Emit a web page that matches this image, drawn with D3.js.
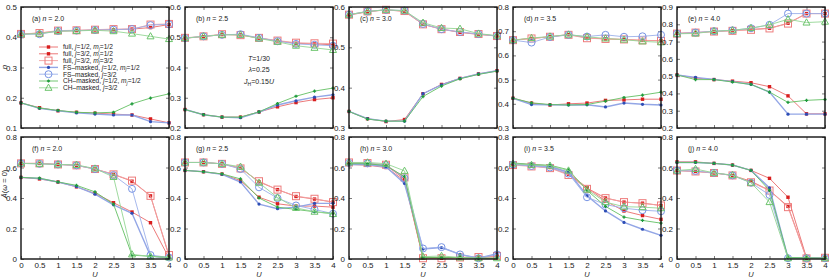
<!DOCTYPE html>
<html>
<head>
<meta charset="utf-8">
<script src="https://d3js.org/d3.v7.min.js"></script>
<style>
body { margin: 0; background: #fff; }
svg text { font-family: "Liberation Sans", Arial, sans-serif; fill: #222; }
.tick text { font-size: 8px; }
.lbl { font-size: 7px; }
</style>
</head>
<body>
<script>
// U grid and panel fillings
var U = [0, 0.5, 1, 1.5, 2, 2.5, 3, 3.5, 4];
var fillings = ["2.0", "2.5", "3.0", "3.5", "4.0"];
var topLetters = ["a", "b", "c", "d", "e"];
var botLetters = ["f", "g", "h", "i", "j"];
var topDomains = [[0.1, 0.5], [0.2, 0.6], [0.3, 0.6], [0.3, 0.8], [0.2, 0.9]];
var botDomain = [0, 0.8];
var xTicks = [0, 0.5, 1, 1.5, 2, 2.5, 3, 3.5, 4];

// occupation n, one row per filling
var occFull12 = [
  [0.183,0.167,0.157,0.152,0.149,0.146,0.143,0.130,0.117],
  [0.261,0.244,0.236,0.236,0.253,0.270,0.284,0.294,0.300],
  [0.341,0.323,0.316,0.321,0.385,0.408,0.423,0.434,0.442],
  [0.423,0.403,0.395,0.400,0.403,0.414,0.416,0.419,0.419],
  [0.507,0.489,0.480,0.471,0.462,0.439,0.386,0.282,0.282]];
var occFull32m12 = [
  [0.410,0.414,0.420,0.422,0.424,0.425,0.427,0.432,0.442],
  [0.497,0.502,0.509,0.508,0.497,0.488,0.480,0.478,0.475],
  [0.580,0.588,0.593,0.589,0.557,0.545,0.537,0.532,0.528],
  [0.663,0.670,0.677,0.686,0.673,0.668,0.666,0.662,0.661],
  [0.748,0.752,0.758,0.764,0.770,0.777,0.806,0.862,0.862]];
var occFull32m32 = [
  [0.411,0.414,0.422,0.423,0.425,0.427,0.427,0.442,0.444],
  [0.498,0.503,0.510,0.507,0.498,0.489,0.482,0.480,0.479],
  [0.581,0.589,0.593,0.590,0.557,0.545,0.538,0.533,0.528],
  [0.663,0.670,0.677,0.685,0.671,0.668,0.666,0.662,0.660],
  [0.746,0.752,0.758,0.762,0.768,0.776,0.804,0.862,0.862]];
var occFS12 = [
  [0.183,0.165,0.157,0.150,0.146,0.143,0.143,0.121,0.117],
  [0.261,0.244,0.236,0.234,0.253,0.276,0.290,0.302,0.310],
  [0.341,0.323,0.317,0.317,0.385,0.407,0.423,0.434,0.442],
  [0.423,0.397,0.396,0.395,0.396,0.387,0.403,0.398,0.395],
  [0.507,0.493,0.481,0.468,0.452,0.408,0.280,0.280,0.280]];
var occFS32 = [
  [0.410,0.410,0.421,0.422,0.424,0.425,0.427,0.440,0.443],
  [0.497,0.503,0.508,0.510,0.498,0.487,0.478,0.475,0.472],
  [0.581,0.589,0.593,0.591,0.558,0.545,0.538,0.533,0.528],
  [0.663,0.653,0.676,0.685,0.678,0.685,0.677,0.679,0.685],
  [0.746,0.752,0.760,0.765,0.777,0.797,0.862,0.862,0.862]];
var occCH12 = [
  [0.183,0.166,0.158,0.152,0.150,0.152,0.180,0.199,0.213],
  [0.261,0.244,0.236,0.236,0.253,0.281,0.305,0.322,0.332],
  [0.341,0.322,0.317,0.317,0.378,0.404,0.422,0.433,0.441],
  [0.423,0.404,0.397,0.395,0.397,0.411,0.426,0.436,0.448],
  [0.507,0.480,0.480,0.466,0.452,0.408,0.348,0.360,0.365]];
var occCH32 = [
  [0.410,0.412,0.420,0.421,0.423,0.420,0.412,0.403,0.394],
  [0.497,0.503,0.508,0.508,0.496,0.485,0.472,0.465,0.458],
  [0.581,0.589,0.593,0.591,0.561,0.548,0.546,0.534,0.529],
  [0.663,0.672,0.678,0.686,0.677,0.670,0.665,0.658,0.654],
  [0.745,0.747,0.760,0.765,0.778,0.797,0.829,0.810,0.815]];

// spectral weight A(w=0)
var specFull12 = [
  [0.535,0.525,0.505,0.473,0.430,0.369,0.308,0.238,0.006],
  [0.581,0.572,0.557,0.514,0.405,0.362,0.347,0.347,0.340],
  [0.620,0.615,0.600,0.514,0.005,0.005,0.008,0.010,0.015],
  [0.625,0.620,0.610,0.565,0.467,0.380,0.315,0.285,0.260],
  [0.637,0.637,0.627,0.616,0.581,0.529,0.405,0.008,0.008]];
var specFull32m12 = [
  [0.627,0.627,0.620,0.614,0.590,0.555,0.510,0.414,0.020],
  [0.633,0.633,0.624,0.596,0.506,0.455,0.410,0.393,0.373],
  [0.625,0.622,0.613,0.525,0.010,0.010,0.010,0.013,0.020],
  [0.620,0.610,0.600,0.555,0.465,0.400,0.373,0.366,0.351],
  [0.580,0.574,0.564,0.548,0.510,0.450,0.345,0.005,0.008]];
var specFull32m32 = [
  [0.627,0.627,0.620,0.614,0.590,0.555,0.514,0.414,0.026],
  [0.633,0.633,0.624,0.594,0.510,0.455,0.412,0.395,0.373],
  [0.633,0.629,0.618,0.535,0.005,0.005,0.010,0.013,0.020],
  [0.616,0.607,0.596,0.551,0.460,0.399,0.373,0.366,0.351],
  [0.580,0.574,0.564,0.548,0.503,0.449,0.340,0.004,0.008]];
var specFS12 = [
  [0.535,0.528,0.505,0.475,0.425,0.355,0.300,0.020,0.005],
  [0.581,0.572,0.555,0.505,0.360,0.330,0.340,0.365,0.365],
  [0.620,0.620,0.605,0.495,0.065,0.075,0.030,0.005,0.035],
  [0.625,0.615,0.605,0.570,0.415,0.315,0.240,0.195,0.155],
  [0.633,0.633,0.627,0.616,0.581,0.466,0.008,0.008,0.005]];
var specFS32 = [
  [0.627,0.624,0.620,0.614,0.590,0.550,0.460,0.026,0.010],
  [0.633,0.633,0.624,0.590,0.470,0.399,0.351,0.325,0.297],
  [0.630,0.627,0.615,0.530,0.069,0.078,0.030,0.005,0.030],
  [0.620,0.610,0.600,0.560,0.405,0.357,0.333,0.320,0.313],
  [0.580,0.577,0.565,0.548,0.500,0.420,0.005,0.005,0.005]];
var specCH12 = [
  [0.535,0.530,0.505,0.483,0.440,0.360,0.025,0.018,0.010],
  [0.581,0.572,0.558,0.525,0.400,0.340,0.325,0.310,0.298],
  [0.625,0.625,0.612,0.540,0.010,0.010,0.010,0.005,0.005],
  [0.630,0.620,0.615,0.585,0.450,0.345,0.275,0.253,0.235],
  [0.633,0.633,0.627,0.616,0.581,0.450,0.010,0.008,0.005]];
var specCH32 = [
  [0.627,0.624,0.620,0.617,0.593,0.538,0.030,0.017,0.010],
  [0.633,0.633,0.624,0.605,0.500,0.403,0.335,0.310,0.295],
  [0.633,0.633,0.625,0.578,0.015,0.020,0.010,0.005,0.005],
  [0.625,0.617,0.612,0.580,0.455,0.373,0.343,0.340,0.333],
  [0.580,0.590,0.565,0.550,0.500,0.373,0.005,0.005,0.005]];

var occSeries = [occFull12, occFull32m12, occFull32m32, occFS12, occFS32, occCH12, occCH32];
var specSeries = [specFull12, specFull32m12, specFull32m32, specFS12, specFS32, specCH12, specCH32];

// legend text pieces: [text, style] style: "" normal, "i" italic, "s" subscript
var legendLabels = [
  [["full, ",""],["j","i"],["=1/2, ",""],["m","i"],["j","s"],["=1/2",""]],
  [["full, ",""],["j","i"],["=3/2, ",""],["m","i"],["j","s"],["=1/2",""]],
  [["full, ",""],["j","i"],["=3/2, ",""],["m","i"],["j","s"],["=3/2",""]],
  [["FS\u2013masked, ",""],["j","i"],["=1/2, ",""],["m","i"],["j","s"],["=1/2",""]],
  [["FS\u2013masked, ",""],["j","i"],["=3/2",""]],
  [["CH\u2013masked, ",""],["j","i"],["=1/2, ",""],["m","i"],["j","s"],["=1/2",""]],
  [["CH\u2013masked, ",""],["j","i"],["=3/2",""]]
];

// drawing styles per series
var styles = [
  {line: "#ea6a6a", lw: 0.9, mark: "fsq", mc: "#d81e1e"},
  {line: "#ea6a6a", lw: 0.9, mark: "fsq", mc: "#d81e1e"},
  {line: "#f2a0a0", lw: 0.9, mark: "osq", mc: "#ee7c7c"},
  {line: "#93a6e6", lw: 1.4, mark: "fdot", mc: "#2d4db5"},
  {line: "#9cb0ea", lw: 0.9, mark: "ocirc", mc: "#7894e4"},
  {line: "#62c062", lw: 0.9, mark: "fplus", mc: "#1e9a3c"},
  {line: "#94d694", lw: 0.9, mark: "otri", mc: "#6cc46c"}
];

var W = 830, H = 277;
var panelW = 148, panelStep = 164, left0 = 21;
var rows = [{top: 7, bot: 128}, {top: 137, bot: 259}];

var svg = d3.select("body").append("svg")
  .attr("width", W).attr("height", H);

var yFmt = function(d) { return d === 0 ? "0" : d3.format(".1f")(d); };

function drawMarker(g, type, x, y, c) {
  if (type === "fsq") {
    g.append("rect").attr("x", x - 1.7).attr("y", y - 1.7).attr("width", 3.4).attr("height", 3.4).attr("fill", c);
  } else if (type === "osq") {
    g.append("rect").attr("x", x - 3.5).attr("y", y - 3.5).attr("width", 7).attr("height", 7)
      .attr("fill", "none").attr("stroke", c).attr("stroke-width", 1);
  } else if (type === "fdot") {
    g.append("circle").attr("cx", x).attr("cy", y).attr("r", 1.6).attr("fill", c);
  } else if (type === "ocirc") {
    g.append("circle").attr("cx", x).attr("cy", y).attr("r", 3.5)
      .attr("fill", "none").attr("stroke", c).attr("stroke-width", 1);
  } else if (type === "fplus") {
    g.append("path").attr("d", "M" + (x - 1.6) + "," + y + "h3.2M" + x + "," + (y - 1.6) + "v3.2")
      .attr("stroke", c).attr("stroke-width", 1.3);
  } else if (type === "otri") {
    g.append("path").attr("d", "M" + x + "," + (y - 3.7) + "L" + (x + 3.5) + "," + (y + 2.5) + "L" + (x - 3.5) + "," + (y + 2.5) + "Z")
      .attr("fill", "none").attr("stroke", c).attr("stroke-width", 1);
  }
}

function drawPanel(row, col, domain, yTicks, data, label) {
  var x0 = left0 + col * panelStep;
  var r = rows[row];
  var x = d3.scaleLinear().domain([0, 4]).range([x0, x0 + panelW]);
  var y = d3.scaleLinear().domain(domain).range([r.bot, r.top]);
  var g = svg.append("g");

  // axes (inward ticks on all sides)
  var yl = g.append("g").attr("transform", "translate(" + x0 + ",0)")
    .call(d3.axisLeft(y).tickValues(yTicks).tickSize(-3).tickPadding(4).tickFormat(yFmt));
  var yr = g.append("g").attr("transform", "translate(" + (x0 + panelW) + ",0)")
    .call(d3.axisRight(y).tickValues(yTicks).tickSize(-3).tickFormat(""));
  var xb = g.append("g").attr("transform", "translate(0," + r.bot + ")")
    .call(d3.axisBottom(x).tickValues(xTicks).tickSize(-3).tickPadding(3)
      .tickFormat(row === 1 ? d3.format("") : ""));
  var xt = g.append("g").attr("transform", "translate(0," + r.top + ")")
    .call(d3.axisTop(x).tickValues(xTicks).tickSize(-3).tickFormat(""));
  [yl, yr, xb, xt].forEach(function(a) {
    a.select(".domain").remove();
    a.selectAll(".tick line").attr("stroke", "#444").attr("stroke-width", 0.7);
    a.selectAll(".tick text").attr("fill", "#333");
  });

  // series
  var line = d3.line().x(function(d, i) { return x(U[i]); }).y(function(d) { return y(d); });
  data.forEach(function(s, k) {
    var st = styles[k];
    var vals = s[col];
    g.append("path").datum(vals).attr("d", line)
      .attr("fill", "none").attr("stroke", st.line).attr("stroke-width", st.lw);
    vals.forEach(function(v, i) { drawMarker(g, st.mark, x(U[i]), y(v), st.mc); });
  });

  // frame
  g.append("rect").attr("x", x0).attr("y", r.top).attr("width", panelW).attr("height", r.bot - r.top)
    .attr("fill", "none").attr("stroke", "#111").attr("stroke-width", 1.4);

  // panel label
  var t = g.append("text").attr("class", "lbl").attr("x", x0 + 11).attr("y", r.top + 14);
  t.append("tspan").text("(" + label + ") ");
  t.append("tspan").attr("font-style", "italic").text("n");
  t.append("tspan").text(" = " + fillings[col]);

  if (row === 1) {
    g.append("text").attr("x", x0 + panelW / 2).attr("y", 276.5).attr("text-anchor", "middle")
      .attr("font-size", 7.5).attr("font-style", "italic").text("U");
  }
  return g;
}

var topTicks = [
  [0.1, 0.2, 0.3, 0.4, 0.5],
  [0.2, 0.3, 0.4, 0.5, 0.6],
  [0.3, 0.4, 0.5, 0.6],
  [0.3, 0.4, 0.5, 0.6, 0.7, 0.8],
  [0.2, 0.3, 0.4, 0.5, 0.6, 0.7, 0.8, 0.9]
];
var botTicks = [0, 0.2, 0.4, 0.6, 0.8];

for (var c = 0; c < 5; c++) {
  drawPanel(0, c, topDomains[c], topTicks[c], occSeries, topLetters[c]);
  drawPanel(1, c, botDomain, botTicks, specSeries, botLetters[c]);
}

// y labels
svg.append("text").attr("transform", "translate(7,67) rotate(-90)").attr("text-anchor", "middle")
  .attr("font-size", 8).attr("font-style", "italic").text("n");
var ya = svg.append("text").attr("transform", "translate(7,184) rotate(-90)").attr("text-anchor", "middle")
  .attr("font-size", 7.5);
ya.append("tspan").attr("font-style", "italic").text("\u0100");
ya.append("tspan").text("(");
ya.append("tspan").attr("font-style", "italic").text("\u03c9");
ya.append("tspan").text(" = 0)");

// legend in panel (a)
var leg = svg.append("g");
legendLabels.forEach(function(parts, k) {
  var ly = 47 + k * 6.8;
  var st = styles[k];
  leg.append("line").attr("x1", 39).attr("x2", 58).attr("y1", ly).attr("y2", ly)
    .attr("stroke", st.line).attr("stroke-width", st.lw);
  drawMarker(leg, st.mark, 48.5, ly, st.mc);
  var t = leg.append("text").attr("x", 63).attr("y", ly + 2.3).attr("font-size", 6.6);
  var sub = false;
  parts.forEach(function(p) {
    var sp = t.append("tspan").text(p[0]);
    if (p[1] === "i") sp.attr("font-style", "italic");
    if (p[1] === "s") {
      sp.attr("font-style", "italic").attr("font-size", 4.6).attr("dy", 1.5);
      sub = true;
    } else if (sub) {
      sp.attr("dy", -1.5);
      sub = false;
    }
  });
});

// parameters in panel (b)
var px = 185 + 74;
svg.append("text").attr("class", "lbl").attr("x", px).attr("y", 61).attr("text-anchor", "middle")
  .call(function(t) { t.append("tspan").attr("font-style", "italic").text("T"); t.append("tspan").text("=1/30"); });
svg.append("text").attr("class", "lbl").attr("x", px).attr("y", 72).attr("text-anchor", "middle")
  .call(function(t) { t.append("tspan").attr("font-style", "italic").text("\u03bb"); t.append("tspan").text("=0.25"); });
svg.append("text").attr("class", "lbl").attr("x", px).attr("y", 84).attr("text-anchor", "middle")
  .call(function(t) {
    t.append("tspan").attr("font-style", "italic").text("J");
    t.append("tspan").attr("font-size", 5).attr("dy", 1.5).text("H");
    t.append("tspan").attr("dy", -1.5).text("=0.15");
    t.append("tspan").attr("font-style", "italic").text("U");
  });
</script>
</body>
</html>
